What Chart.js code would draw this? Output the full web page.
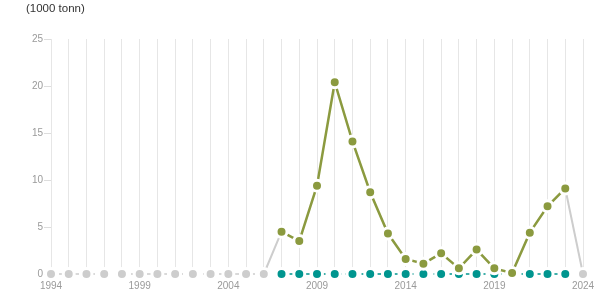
<!DOCTYPE html>
<html><head><meta charset="utf-8">
<script src="https://cdn.jsdelivr.net/npm/chart.js@4.4.1/dist/chart.umd.min.js"></script>
<style>
html,body{margin:0;padding:0;background:#fff;}
#wrap{position:relative;width:615px;height:305px;}
#unit{position:absolute;left:26px;top:1px;font:11.5px "Liberation Sans",Arial,sans-serif;color:#333;line-height:14px;}
canvas{position:absolute;left:0;top:0;}
</style></head>
<body>
<div id="wrap"><canvas id="c" width="615" height="305"></canvas><div id="unit">(1000 tonn)</div></div>
<script>
const years = [];
for (let y = 1994; y <= 2024; y++) years.push(String(y));
// Olive series (2007-2023)
const mainValues = [null,null,null,null,null,null,null,null,null,null,null,null,null,
  4.5,3.5,9.4,20.4,14.1,8.7,4.3,1.6,1.1,2.2,0.6,2.6,0.6,0.1,4.4,7.2,9.1,null];
// Teal series at zero (2007-2023)
const zeroValues = [null,null,null,null,null,null,null,null,null,null,null,null,null,
  0,0,0,0,0,0,0,0,0,0,0,0,0,0,0,0,0,null];
// Grey series (before and after)
const greyValues = [0,0,0,0,0,0,0,0,0,0,0,0,0,4.5,null,null,null,null,null,null,null,null,null,null,null,null,null,null,null,9.1,0];
const yTicks = [0,5,10,15,20,25];

const OLIVE = '#8b9a3f', TEAL = '#00958f', GREY = '#cdcdcd';
const font = {family: '"Liberation Sans", Arial, sans-serif', size: 10};

new Chart(document.getElementById('c'), {
  type: 'line',
  data: {
    labels: years,
    datasets: [
      {data: mainValues, borderColor: OLIVE, backgroundColor: OLIVE, borderWidth: 2.5, clip: false,
       pointBackgroundColor: OLIVE, pointBorderColor: '#fff', pointBorderWidth: 3, pointRadius: 5.5, spanGaps: false},
      {data: zeroValues, borderColor: TEAL, backgroundColor: TEAL, borderWidth: 1.5, borderDash: [4,4], clip: false,
       pointBackgroundColor: TEAL, pointBorderColor: '#fff', pointBorderWidth: 3, pointRadius: 5.5},
      {data: greyValues, borderColor: GREY, backgroundColor: GREY, borderWidth: 2, clip: false,
       pointBackgroundColor: GREY, pointBorderColor: '#fff', pointBorderWidth: 3,
       pointRadius: ctx => (ctx.dataIndex === 13 || ctx.dataIndex === 29) ? 0 : 5.5,
       segment: {borderDash: c => (c.p0.parsed.y === 0 && c.p1.parsed.y === 0) ? [4,4] : undefined,
                 borderWidth: c => (c.p0.parsed.y === 0 && c.p1.parsed.y === 0) ? 1.5 : 2}}
    ]
  },
  options: {
    responsive: false, animation: false,
    layout: {padding: {left: 0, right: 32, top: 39, bottom: 0}},
    plugins: {legend: {display: false}, tooltip: {enabled: false}},
    elements: {line: {tension: 0}},
    scales: {
      x: {
        offset: false,
        grid: {color: '#e6e6e6', lineWidth: 1, drawTicks: false},
        border: {display: false},
        ticks: {autoSkip: false, maxRotation: 0, color: '#9a9a9a', font: font, padding: 6,
                callback: (v, i) => (i % 5 === 0 ? years[i] : '')},
        afterFit: s => { s.height = 31; }
      },
      y: {
        min: 0, max: 25,
        afterBuildTicks: s => { s.ticks = yTicks.map(v => ({value: v})); },
        grid: {drawOnChartArea: false, color: '#dddddd', tickLength: 7},
        border: {display: false},
        ticks: {color: '#9a9a9a', font: font, padding: 1},
        afterFit: s => { s.width = 51; }
      }
    }
  }
});
</script>
</body></html>
